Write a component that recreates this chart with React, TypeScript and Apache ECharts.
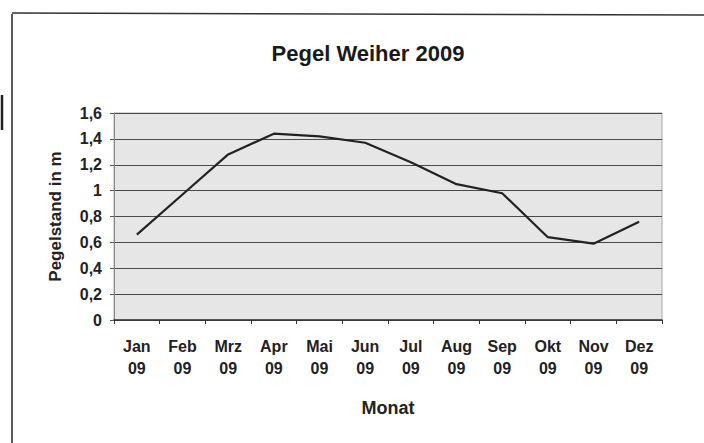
import React, { useEffect, useRef } from "react";
import * as echarts from "echarts";

const months = ["Jan\n09", "Feb\n09", "Mrz\n09", "Apr\n09", "Mai\n09", "Jun\n09", "Jul\n09", "Aug\n09", "Sep\n09", "Okt\n09", "Nov\n09", "Dez\n09"];
const pegel = [0.66, 0.97, 1.28, 1.44, 1.42, 1.37, 1.22, 1.05, 0.98, 0.64, 0.59, 0.76];
const title = "Pegel Weiher 2009";
const yTitle = "Pegelstand in m";
const xTitle = "Monat";

export default function App() {
  const ref = useRef<HTMLDivElement>(null);
  useEffect(() => {
    if (!ref.current) return;
    const chart = echarts.init(ref.current, null, { renderer: "svg" });
    const font = "'Liberation Sans', Arial, sans-serif";
    chart.setOption({
      animation: false,
      backgroundColor: "#ffffff",
      title: {
        text: title,
        left: 363,
        top: 37,
        textAlign: "center",
        textStyle: { fontFamily: font, fontSize: 22, fontWeight: "bold", color: "#1a1a1a" },
      },
      graphic: [
        { type: "line", shape: { x1: 12, y1: 14, x2: 12, y2: 443 }, style: { stroke: "#222", lineWidth: 1.5 } },
        { type: "line", shape: { x1: 12, y1: 13, x2: 704, y2: 15 }, style: { stroke: "#333", lineWidth: 1.5 } },
        { type: "line", shape: { x1: 2, y1: 95, x2: 2, y2: 130 }, style: { stroke: "#222", lineWidth: 2.5 } },
      ],
      grid: {
        left: 114,
        top: 113,
        width: 548,
        height: 207,
        show: true,
        backgroundColor: "#e6e6e6",
        borderColor: "#aaaaaa",
        borderWidth: 1,
      },
      xAxis: {
        type: "category",
        data: months,
        boundaryGap: true,
        name: xTitle,
        nameLocation: "middle",
        nameGap: 79,
        nameTextStyle: { fontFamily: font, fontSize: 18, fontWeight: "bold", color: "#222" },
        axisLine: { lineStyle: { color: "#333", width: 1.5 } },
        axisTick: { show: true, inside: false, length: 4, lineStyle: { color: "#333" } },
        axisLabel: { fontFamily: font, fontSize: 16, fontWeight: "bold", color: "#222", lineHeight: 22, margin: 15 },
      },
      yAxis: {
        type: "value",
        min: 0,
        max: 1.6,
        interval: 0.2,
        name: yTitle,
        nameLocation: "middle",
        nameGap: 50,
        nameTextStyle: { fontFamily: font, fontSize: 17, fontWeight: "bold", color: "#222" },
        axisLine: { show: true, lineStyle: { color: "#888", width: 1 } },
        axisTick: { show: true, length: 4, lineStyle: { color: "#555" } },
        axisLabel: {
          fontFamily: font,
          fontSize: 16,
          fontWeight: "bold",
          color: "#222",
          margin: 12,
          formatter: (v: number) => (Math.round(v * 10) / 10).toString().replace(".", ","),
        },
        splitLine: { show: true, lineStyle: { color: "#4a4a4a", width: 1.2 } },
      },
      series: [
        {
          type: "line",
          data: pegel,
          symbol: "none",
          lineStyle: { color: "#222222", width: 2.2 },
        },
      ],
    });
    return () => chart.dispose();
  }, []);
  return <div ref={ref} style={{ position: "fixed", left: 0, top: 0, width: 704, height: 443 }} />;
}
